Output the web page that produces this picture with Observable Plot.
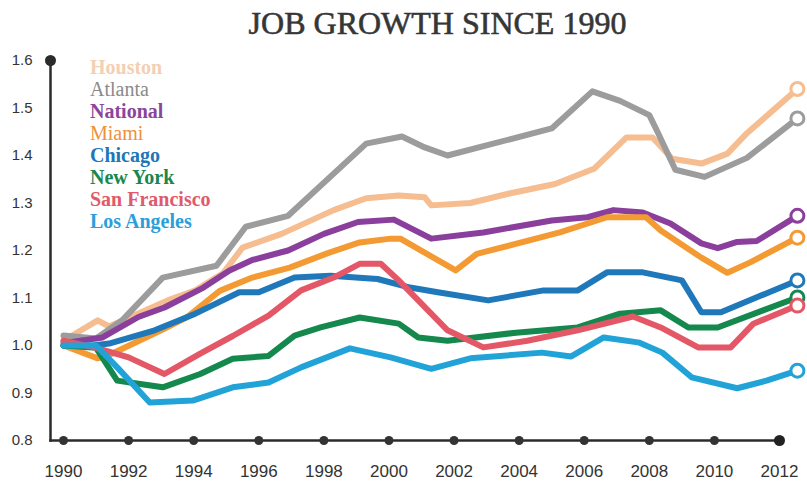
<!DOCTYPE html>
<html>
<head>
<meta charset="utf-8">
<script src="https://cdn.jsdelivr.net/npm/d3@7"></script>
<script src="https://cdn.jsdelivr.net/npm/@observablehq/plot@0.6"></script>
<style>
  body { margin: 0; background: #fff; }
  #wrap { position: relative; width: 807px; height: 487px; overflow: hidden; }
  #title { height: 45px; text-align: center; font-family: "Liberation Serif", serif; font-size: 32px; font-weight: normal; -webkit-text-stroke: 0.6px #363636; color: #363636; line-height: 46px; padding-left: 68px; box-sizing: border-box; }
  #legend { position: absolute; left: 90px; top: 56px; font-family: "Liberation Serif", serif; font-size: 20px; line-height: 22px; font-weight: bold; }
</style>
</head>
<body>
<div id="wrap">
  <div id="title">JOB GROWTH SINCE 1990</div>
  <div id="chart"></div>
  <div id="legend"></div>
</div>
<script>
// ---- data ----
const cities = ["Houston", "Atlanta", "National", "Miami", "Chicago", "New York", "San Francisco", "Los Angeles"];
const lineColors = ["#f5bd90", "#9c9c9c", "#8b3f9c", "#f39a33", "#1f78b9", "#14884d", "#e35767", "#22a3d7"];
const legendColors = ["#f3cfb3", "#8a8a8a", "#8b459a", "#f0903a", "#2176b5", "#17874f", "#e05a6a", "#2a9fdb"];
const legendWeights = ["bold", "normal", "bold", "normal", "bold", "bold", "bold", "bold"];
const yTicks = [0.8, 0.9, 1.0, 1.1, 1.2, 1.3, 1.4, 1.5, 1.6];
const xTicks = [1990, 1992, 1994, 1996, 1998, 2000, 2002, 2004, 2006, 2008, 2010, 2012];

const houston = [[1990,1.01],[1991.05,1.053],[1991.4,1.04],[1993.2,1.095],[1994.05,1.116],[1994.9,1.152],[1995.5,1.206],[1996.7,1.235],[1998.3,1.285],[1999.3,1.31],[2000.3,1.316],[2001.1,1.312],[2001.3,1.295],[2002.5,1.30],[2003.7,1.32],[2005.1,1.34],[2006.3,1.372],[2007.3,1.438],[2008.1,1.438],[2008.7,1.393],[2009.6,1.383],[2010.4,1.404],[2011.0,1.447],[2012.55,1.54]];
const atlanta = [[1990,1.021],[1991,1.015],[1991.8,1.053],[1993.05,1.143],[1994.7,1.168],[1995.6,1.25],[1996.9,1.273],[1999.3,1.425],[2000.4,1.44],[2001.1,1.417],[2001.8,1.40],[2005.0,1.457],[2006.25,1.535],[2007.1,1.515],[2008.0,1.485],[2008.25,1.45],[2008.8,1.37],[2009.7,1.355],[2011.0,1.395],[2012.55,1.478]];
const national = [[1990,1.005],[1991.2,1.017],[1992.3,1.06],[1993.1,1.08],[1994.3,1.122],[1995.1,1.158],[1995.8,1.18],[1996.9,1.2],[1998.0,1.235],[1999.05,1.26],[2000.15,1.265],[2001.3,1.225],[2002.9,1.238],[2005.0,1.263],[2006.1,1.27],[2006.9,1.285],[2007.8,1.28],[2008.65,1.257],[2009.6,1.215],[2010.1,1.205],[2010.7,1.218],[2011.3,1.22],[2012.55,1.273]];
const miami = [[1990,1.0],[1991.05,0.973],[1991.5,0.983],[1993.0,1.032],[1993.8,1.06],[1994.8,1.115],[1995.8,1.143],[1996.95,1.164],[1998.1,1.194],[1999.1,1.217],[2000.05,1.225],[2000.35,1.225],[2002.05,1.158],[2002.7,1.193],[2005.25,1.238],[2006.7,1.27],[2007.9,1.27],[2008.35,1.242],[2009.6,1.185],[2010.4,1.153],[2011.1,1.175],[2012.55,1.227]];
const chicago = [[1990,1.0],[1990.9,1.0],[1991.4,1.004],[1992.8,1.032],[1994.05,1.067],[1995.4,1.112],[1996.0,1.112],[1997.1,1.143],[1998.2,1.147],[1999.65,1.14],[2000.65,1.122],[2001.5,1.112],[2003.05,1.095],[2004.75,1.116],[2005.8,1.116],[2006.7,1.154],[2007.8,1.154],[2009.0,1.137],[2009.6,1.07],[2010.2,1.07],[2012.55,1.137]];
const newYork = [[1990,1.0],[1991,0.995],[1991.65,0.926],[1992.25,0.92],[1993.05,0.912],[1994.2,0.94],[1995.2,0.972],[1996.3,0.978],[1997.1,1.021],[1997.9,1.038],[1999.1,1.059],[2000.3,1.046],[2000.9,1.017],[2001.8,1.01],[2003.9,1.027],[2005.8,1.038],[2007.1,1.067],[2008.35,1.074],[2009.2,1.038],[2010.1,1.038],[2012.55,1.101]];
const sanFrancisco = [[1990,1.01],[1991,0.995],[1992,0.975],[1993.1,0.94],[1994.2,0.983],[1995.2,1.02],[1996.3,1.063],[1997.3,1.116],[1998.3,1.143],[1999.1,1.172],[1999.75,1.172],[2000.3,1.137],[2000.9,1.095],[2001.8,1.032],[2002.9,0.996],[2004.25,1.01],[2005.8,1.032],[2007.5,1.061],[2008.35,1.038],[2009.5,0.996],[2010.5,0.996],[2011.2,1.046],[2012.55,1.084]];
const losAngeles = [[1990,1.0],[1991,1.0],[1991.65,0.954],[1992.65,0.88],[1993.97,0.884],[1995.2,0.912],[1996.3,0.922],[1997.3,0.954],[1998.8,0.994],[2000.05,0.975],[2001.3,0.951],[2002.5,0.973],[2004.7,0.985],[2005.6,0.977],[2006.6,1.017],[2007.7,1.006],[2008.4,0.985],[2009.3,0.933],[2010.7,0.91],[2011.6,0.926],[2012.55,0.947]];

const seriesList = [houston, atlanta, national, miami, chicago, newYork, sanFrancisco, losAngeles];

// ---- build table ----
const rows = [];
seriesList.forEach((s, i) => s.forEach(([year, value]) => rows.push({city: cities[i], year, value})));
const lastRows = seriesList.map((s, i) => ({city: cities[i], year: s[s.length - 1][0], value: s[s.length - 1][1]}));
const lastTick = xTicks[xTicks.length - 1];

const chart = Plot.plot({
  width: 807,
  height: 442,
  marginLeft: 50,
  marginRight: 28,
  marginTop: 15,
  marginBottom: 47,
  style: {background: "white", color: "#333", fontFamily: "'Liberation Sans', Arial, sans-serif"},
  x: {type: "linear", domain: [1989.6, 2012], axis: null, label: null},
  y: {domain: [0.8, 1.6], axis: null, label: null},
  color: {domain: cities, range: lineColors},
  marks: [
    Plot.axisY({ticks: yTicks, tickSize: 0, tickPadding: 18, tickFormat: d3.format(".1f"), fontSize: 15, label: null}),
    Plot.axisX({ticks: xTicks, tickSize: 0, tickPadding: 24, tickFormat: d => String(d), fontSize: 17, label: null}),
    Plot.frame({anchor: "left", stroke: "#2b2b2b", strokeWidth: 2.5}),
    Plot.frame({anchor: "bottom", stroke: "#2b2b2b", strokeWidth: 2.5}),
    Plot.dot([0], {frameAnchor: "top-left", r: 5.5, fill: "#2b2b2b"}),
    Plot.dot(xTicks, {x: d => d, y: () => 0.8, r: 4.5, fill: "#333", filter: d => d !== lastTick}),
    Plot.dot(xTicks, {x: d => d, y: () => 0.8, r: 5.5, fill: "#222", filter: d => d === lastTick}),
    Plot.line(rows, {x: "year", y: "value", z: "city", stroke: "city", strokeWidth: 6, strokeLinejoin: "round", strokeLinecap: "round"}),
    Plot.dot(lastRows, {x: "year", y: "value", r: 6.5, fill: "white", stroke: "city", strokeWidth: 3})
  ]
});
document.getElementById("chart").appendChild(chart);

// ---- legend ----
const legend = document.getElementById("legend");
cities.forEach((c, i) => {
  const d = document.createElement("div");
  d.textContent = c;
  d.style.color = legendColors[i];
  d.style.fontWeight = legendWeights[i];
  legend.appendChild(d);
});
</script>
</body>
</html>
